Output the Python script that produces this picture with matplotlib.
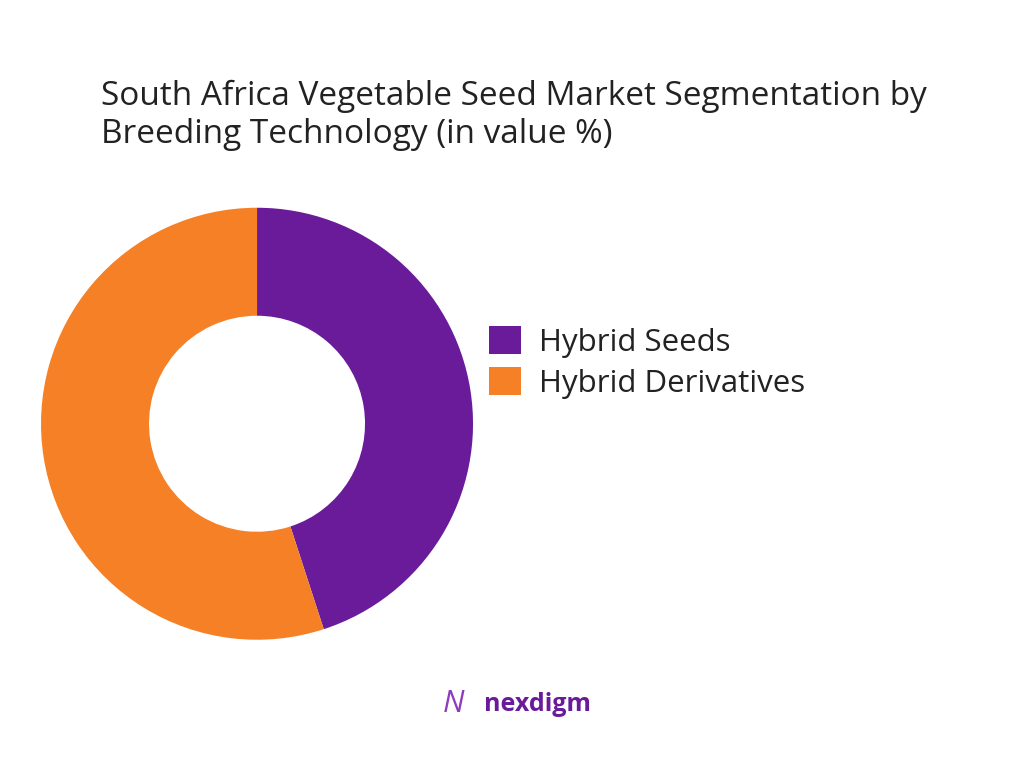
import matplotlib
matplotlib.use("Agg")
from matplotlib import pyplot as plt
from matplotlib.patches import Patch

labels = ["Hybrid Seeds", "Hybrid Derivatives"]
values = [45, 55]
colors = ["#6A1B99", "#F58025"]

plt.rcParams['font.family'] = ['Open Sans', 'DejaVu Sans']

fig = plt.figure(figsize=(10.24, 7.68), dpi=100)
fig.patch.set_facecolor("white")

fig.text(0.099, 0.850, "South Africa Vegetable Seed Market Segmentation by\nBreeding Technology (in value %)",
         fontsize=24, color="#222222", va="center", ha="left", linespacing=1.2)

ax = fig.add_axes([0.040, 0.167, 0.422, 0.5625])
ax.pie(values, colors=colors, startangle=90, counterclock=False,
       wedgeprops=dict(width=0.5, edgecolor="none"), radius=1)
ax.set_xlim(-1, 1)
ax.set_ylim(-1, 1)
ax.set_aspect("equal")

handles = [Patch(facecolor=c, label=l) for c, l in zip(colors, labels)]
fig.legend(handles=handles, loc="center left", bbox_to_anchor=(0.478, 0.528),
           frameon=False, fontsize=22.5, handlelength=1.0, handleheight=1.0,
           handletextpad=0.6, labelspacing=0.3, borderpad=0, borderaxespad=0,
           labelcolor="#222222")

fig.text(0.473, 0.083, "nexdigm", fontsize=18, color="#6A1B99", fontweight="bold",
         ha="left", va="center")
fig.text(0.443, 0.083, "N", fontsize=22, color="#8E3BBF", ha="center", va="center",
         fontstyle="italic")

fig.savefig("out.png", dpi=100)
